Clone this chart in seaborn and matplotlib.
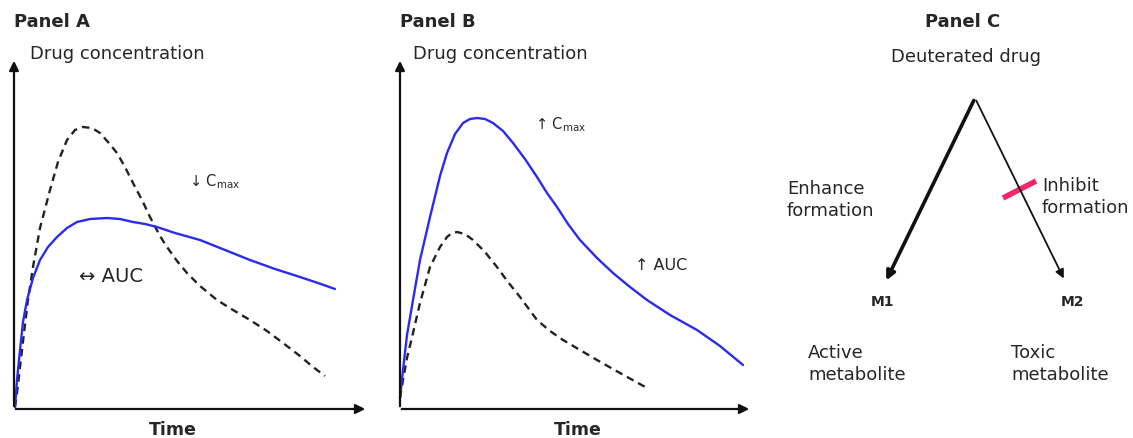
import pandas as pd
import matplotlib.pyplot as plt
import seaborn as sns

# curves, in image pixels (x right, y down)
a_dash_x = [15, 18, 20, 24, 28, 33, 40, 50, 58, 67, 75, 83, 92, 100, 108, 117, 125, 133, 142, 150, 160, 167, 177, 187, 200, 217, 233, 250, 267, 283, 300, 313, 325]
a_dash_y = [407, 385, 367, 333, 300, 267, 228, 190, 162, 140, 130, 127, 128, 133, 142, 153, 167, 183, 200, 217, 236, 247, 261, 273, 286, 300, 310, 320, 331, 343, 356, 367, 376]
a_blue_x = [15, 17, 20, 23, 27, 33, 40, 48, 57, 67, 77, 90, 107, 120, 133, 145, 157, 175, 200, 225, 250, 275, 300, 318, 335]
a_blue_y = [407, 380, 350, 322, 300, 278, 260, 247, 237, 228, 222, 219, 218, 219, 222, 224, 227, 233, 240, 250, 260, 269, 277, 283, 289]

b_blue_x = [400, 403, 407, 413, 420, 430, 440, 447, 455, 463, 470, 477, 485, 493, 503, 513, 525, 537, 547, 557, 568, 580, 597, 613, 630, 647, 670, 697, 720, 743]
b_blue_y = [398, 370, 335, 300, 260, 217, 176, 153, 134, 123, 119, 118, 119, 123, 131, 143, 159, 177, 193, 207, 224, 240, 258, 273, 287, 300, 315, 330, 346, 365]
b_dash_x = [400, 403, 407, 413, 420, 430, 440, 447, 452, 457, 465, 473, 485, 497, 508, 520, 537, 550, 563, 580, 597, 620, 647]
b_dash_y = [398, 380, 358, 333, 303, 267, 247, 237, 233, 232, 234, 240, 252, 267, 282, 297, 320, 331, 340, 350, 360, 373, 388]

curves = pd.concat([
    pd.DataFrame({"x": a_dash_x, "y": a_dash_y, "curve": "A reference"}),
    pd.DataFrame({"x": a_blue_x, "y": a_blue_y, "curve": "A deuterated"}),
    pd.DataFrame({"x": b_dash_x, "y": b_dash_y, "curve": "B reference"}),
    pd.DataFrame({"x": b_blue_x, "y": b_blue_y, "curve": "B deuterated"}),
])

sns.set_theme(style="white")
plt.rcParams['font.family'] = ['DejaVu Sans']

fig = plt.figure(figsize=(11.33, 4.38), dpi=100)
ax = fig.add_axes([0, 0, 1, 1])
ax.set_xlim(0, 1133)
ax.set_ylim(438, 0)
ax.axis("off")

blue = "#2b2bf0"
dark = "#222222"
sns.lineplot(data=curves, x="x", y="y", hue="curve", style="curve",
             palette={"A reference": dark, "A deuterated": blue,
                      "B reference": dark, "B deuterated": blue},
             dashes={"A reference": (3.2, 2.2), "A deuterated": "",
                     "B reference": (3.2, 2.2), "B deuterated": ""},
             sort=False, estimator=None, linewidth=1.7, legend=False, ax=ax)

# axes with arrow heads
arrow = dict(arrowstyle="-|>", color="#111111", lw=1.6, mutation_scale=14)
for x0, x1 in [(14, 368), (400, 752)]:
    ax.annotate("", xy=(x0, 58), xytext=(x0, 409), arrowprops=arrow)
    ax.annotate("", xy=(x1, 409), xytext=(x0 - 1, 409), arrowprops=arrow)

txt = "#262626"
fs = 13
ax.text(14, 22, "Panel A", fontsize=fs, fontweight="bold", va="center", color=txt)
ax.text(400, 22, "Panel B", fontsize=fs, fontweight="bold", va="center", color=txt)
ax.text(963, 22, "Panel C", fontsize=fs, fontweight="bold", va="center", ha="center", color=txt)
ax.text(30, 54, "Drug concentration", fontsize=fs, va="center", color=txt)
ax.text(413, 54, "Drug concentration", fontsize=fs, va="center", color=txt)
ax.text(173, 430, "Time", fontsize=12.5, fontweight="bold", va="center", ha="center", color=txt)
ax.text(578, 430, "Time", fontsize=12.5, fontweight="bold", va="center", ha="center", color=txt)

ax.text(189, 182, "↓ C$_{\\mathregular{max}}$", fontsize=10.5, va="center", color=txt)
ax.text(79, 277, "↔ AUC", fontsize=14, va="center", color=txt)
ax.text(535, 125, "↑ C$_{\\mathregular{max}}$", fontsize=10.5, va="center", color=txt)
ax.text(635, 265, "↑ AUC", fontsize=11.5, va="center", color=txt)

# panel C diagram
apex = (975, 98)
m1_tip = (885, 283)
m2_tip = (1065, 281)
ax.annotate("", xy=m1_tip, xytext=apex,
            arrowprops=dict(arrowstyle="-|>", color="#111111", lw=2.6, mutation_scale=13))
ax.annotate("", xy=m2_tip, xytext=apex,
            arrowprops=dict(arrowstyle="-|>", color="#111111", lw=1.3, mutation_scale=13))
ax.plot([1003, 1036], [198, 181], color="#f0266e", lw=4, solid_capstyle="butt")

ax.text(966, 57, "Deuterated drug", fontsize=fs, va="center", ha="center", color=txt)
ax.text(787, 200, "Enhance\nformation", fontsize=fs, va="center", ha="left",
        linespacing=1.3, color=txt)
ax.text(1042, 197, "Inhibit\nformation", fontsize=fs, va="center", ha="left",
        linespacing=1.3, color=txt)
ax.text(882, 302, "M1", fontsize=10, fontweight="bold", va="center", ha="center", color=txt)
ax.text(1072, 302, "M2", fontsize=10, fontweight="bold", va="center", ha="center", color=txt)
ax.text(808, 364, "Active\nmetabolite", fontsize=fs, va="center", ha="left",
        linespacing=1.3, color=txt)
ax.text(1011, 364, "Toxic\nmetabolite", fontsize=fs, va="center", ha="left",
        linespacing=1.3, color=txt)

fig.savefig("out.png", dpi=100)
